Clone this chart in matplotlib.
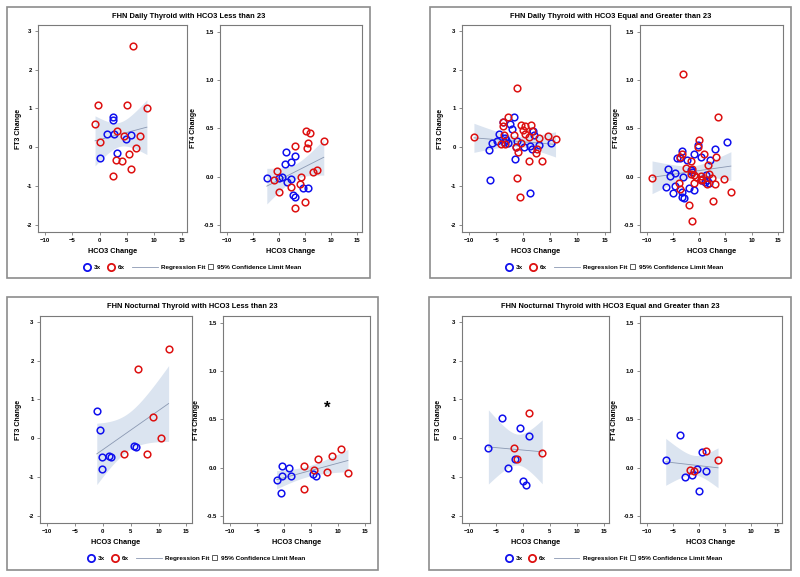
import math
import numpy as np
import matplotlib
matplotlib.use("Agg")
import matplotlib.pyplot as plt
from matplotlib.lines import Line2D
from matplotlib.patches import Patch, Rectangle

plt.rcParams['font.family'] = ['Liberation Sans', 'DejaVu Sans']

# ---------------- data ----------------
titles = ["FHN Daily Thyroid with HCO3 Less than 23",
          "FHN Daily Thyroid with HCO3 Equal and Greater than 23",
          "FHN Nocturnal Thyroid with HCO3 Less than 23",
          "FHN Nocturnal Thyroid with HCO3 Equal and Greater than 23"]
group_labels = ["3x", "6x"]
fit_label = "Regression Fit"
band_label = "95% Confidence Limit Mean"
x_label = "HCO3 Change"
y_labels = ["FT3 Change", "FT4 Change"]
x_ticks = [-10, -5, 0, 5, 10, 15]
ft3_ticks = [-2, -1, 0, 1, 2, 3]
ft4_ticks = [-0.5, 0.0, 0.5, 1.0, 1.5]

# Panel 1: Daily, HCO3 < 23
d_lt_ft3_3x_x = [2.4, 2.4, 1.4, 2.7, 5.7, 4.75, 3.2, 0.1]
d_lt_ft3_3x_y = [0.77, 0.71, 0.35, 0.35, 0.32, 0.21, -0.14, -0.27]
d_lt_ft3_6x_x = [6.1, -0.25, 5.05, 8.65, -0.85, 3.1, 4.4, 7.3, 0.1, 6.7, 5.4, 3.05, 4.0, 5.7, 2.4]
d_lt_ft3_6x_y = [2.6, 1.08, 1.10, 1.01, 0.61, 0.42, 0.29, 0.29, 0.13, -0.01, -0.16, -0.33, -0.35, -0.56, -0.75]
d_lt_ft4_3x_x = [1.4, 3.2, 2.35, 1.2, -2.3, 0.0, 0.7, 2.35, 1.65, 4.7, 5.65, 2.65, 3.05]
d_lt_ft4_3x_y = [0.26, 0.21, 0.15, 0.13, -0.01, -0.01, -0.005, -0.02, -0.055, -0.115, -0.12, -0.19, -0.205]
d_lt_ft4_6x_x = [5.3, 6.05, 8.65, 5.65, 3.05, 5.35, 7.3, 6.6, -0.25, 4.35, -1.0, 4.0, 2.3, 0.05, 5.0, 3.05]
d_lt_ft4_6x_y = [0.475, 0.455, 0.37, 0.35, 0.32, 0.30, 0.07, 0.045, 0.06, 0.0, -0.03, -0.08, -0.105, -0.155, -0.265, -0.325]

# Panel 2: Daily, HCO3 >= 23
d_ge_ft3_3x_x = [-1.8, -3.8, -2.45, -2.1, -4.4, 1.8, 2.0, -4.8, -5.7, -3.4, -3.1, -3.6, -2.9, -1.1,
                 -1.4, 0.2, 1.2, 2.9, 5.2, 1.6, -6.4, -1.6, -6.2, 1.2]
d_ge_ft3_3x_y = [0.78, 0.65, 0.61, 0.46, 0.35, 0.41, 0.31, 0.16, 0.11, 0.24, 0.20, 0.15, 0.11, 0.17,
                 0.01, 0.01, 0.03, 0.06, 0.12, -0.05, -0.08, -0.31, -0.83, -1.18]
d_ge_ft3_6x_x = [-1.1, -2.8, -3.8, -3.8, -9.1, -0.4, 0.25, 1.5, -0.1, 1.7, 0.3, -1.7, -3.5, 2.9,
                 4.6, 5.95, 1.1, -3.4, -4.05, -0.5, -1.4, -1.0, 2.6, 2.3, 1.0, 3.5, -1.1, -0.6]
d_ge_ft3_6x_y = [1.54, 0.77, 0.65, 0.54, 0.26, 0.58, 0.54, 0.57, 0.44, 0.41, 0.35, 0.31, 0.31, 0.24,
                 0.29, 0.21, 0.27, 0.09, 0.08, 0.11, 0.01, -0.12, -0.05, -0.14, -0.34, -0.36, -0.79, -1.29]
d_ge_ft4_3x_x = [5.35, -0.3, 3.0, -3.25, -4.3, -1.0, -3.6, 0.3, 2.0, -2.3, -1.5, -1.4, -5.9, -5.6,
                 -4.65, -3.05, 1.3, 1.5, 0.4, 1.2, 1.9, -6.3, -4.65, -1.9, -0.9, -5.0, -3.25, -3.25, -2.9]
d_ge_ft4_3x_y = [0.36, 0.33, 0.29, 0.27, 0.19, 0.24, 0.19, 0.20, 0.17, 0.17, 0.07, 0.05, 0.08, 0.01,
                 0.04, 0.0, 0.02, -0.03, -0.03, -0.05, -0.06, -0.11, -0.10, -0.12, -0.14, -0.17, -0.16, -0.215, -0.22]
d_ge_ft4_6x_x = [-3.0, 3.6, 0.05, -0.25, 1.0, 3.3, -3.3, -3.6, -1.65, 1.7, -2.6, -9.0, -1.3, -1.65,
                 -1.0, -0.6, 0.25, 0.6, 1.85, 2.35, 4.7, 0.25, -3.9, -3.6, -0.9, 1.5, 3.1, 6.05, -2.0, 2.7, -1.35]
d_ge_ft4_6x_y = [1.065, 0.62, 0.38, 0.31, 0.24, 0.20, 0.23, 0.20, 0.16, 0.12, 0.09, -0.01, 0.08, 0.03,
                 0.02, 0.0, 0.01, -0.02, 0.03, -0.01, -0.02, -0.03, -0.07, -0.13, -0.07, -0.08, -0.08, -0.16, -0.29, -0.25, -0.455]

# Panel 3: Nocturnal, HCO3 < 23
n_lt_ft3_3x_x = [-1.1, -0.5, -0.2, 1.05, 1.45, -0.1, 5.6, 6.0]
n_lt_ft3_3x_y = [0.71, 0.22, -0.49, -0.46, -0.48, -0.79, -0.20, -0.23]
n_lt_ft3_6x_x = [11.8, 6.3, 8.95, 10.5, 3.7, 7.9]
n_lt_ft3_6x_y = [2.29, 1.79, 0.56, 0.0, -0.41, -0.40]
n_lt_ft4_3x_x = [-0.3, 1.0, -0.3, 1.3, -1.35, 5.5, 6.0, -0.6]
n_lt_ft4_3x_y = [0.017, 0.0, -0.09, -0.09, -0.128, -0.06, -0.09, -0.262]
n_lt_ft4_6x_x = [10.6, 8.9, 6.3, 3.7, 5.65, 8.0, 11.9, 3.7]
n_lt_ft4_6x_y = [0.197, 0.12, 0.086, 0.02, -0.02, -0.045, -0.052, -0.217]
asterisk_x = 8.1
asterisk_y = 0.62

# Panel 4: Nocturnal, HCO3 >= 23
n_ge_ft3_3x_x = [-3.8, -0.5, 1.2, -6.4, -1.5, -2.8, -0.05, 0.6]
n_ge_ft3_3x_y = [0.52, 0.27, 0.07, -0.26, -0.52, -0.77, -1.11, -1.2]
n_ge_ft3_6x_x = [1.2, -1.7, 3.6, -1.1]
n_ge_ft3_6x_y = [0.66, -0.24, -0.38, -0.52]
n_ge_ft4_3x_x = [-3.65, 0.7, -6.35, -0.3, 1.35, -1.3, -2.7, 0.0]
n_ge_ft4_3x_y = [0.34, 0.16, 0.08, -0.017, -0.034, -0.072, -0.093, -0.238]
n_ge_ft4_6x_x = [1.4, 3.7, -1.6, -1.0]
n_ge_ft4_6x_y = [0.17, 0.08, -0.024, -0.03]

# ---------------- layout / style ----------------
W, H = 800, 577
C3, C6 = "#1010ee", "#dd1111"
BAND = "#dbe4f0"
FITC = "#8a98b2"
SPINE = "#7a7a7a"
LEG_FS = 4.6

fig = plt.figure(figsize=(8, 5.77), dpi=100)
fig.patch.set_facecolor("white")

panels = [
    dict(box=(7, 7, 370, 278), axl=(38, 25, 187, 232), axr=(220, 25, 362, 232),
         ty=17, ly=267, ylx=(18, 193),
         data=((d_lt_ft3_3x_x, d_lt_ft3_3x_y, d_lt_ft3_6x_x, d_lt_ft3_6x_y),
               (d_lt_ft4_3x_x, d_lt_ft4_3x_y, d_lt_ft4_6x_x, d_lt_ft4_6x_y))),
    dict(box=(430, 7, 791, 278), axl=(462, 25, 610, 232), axr=(640, 25, 783, 232),
         ty=17, ly=267, ylx=(440, 616),
         data=((d_ge_ft3_3x_x, d_ge_ft3_3x_y, d_ge_ft3_6x_x, d_ge_ft3_6x_y),
               (d_ge_ft4_3x_x, d_ge_ft4_3x_y, d_ge_ft4_6x_x, d_ge_ft4_6x_y))),
    dict(box=(7, 297, 378, 570), axl=(40, 316, 192, 523), axr=(223, 316, 370, 523),
         ty=307, ly=558, ylx=(18, 197),
         data=((n_lt_ft3_3x_x, n_lt_ft3_3x_y, n_lt_ft3_6x_x, n_lt_ft3_6x_y),
               (n_lt_ft4_3x_x, n_lt_ft4_3x_y, n_lt_ft4_6x_x, n_lt_ft4_6x_y))),
    dict(box=(429, 297, 791, 570), axl=(462, 316, 609, 523), axr=(640, 316, 782, 523),
         ty=307, ly=558, ylx=(439, 615),
         data=((n_ge_ft3_3x_x, n_ge_ft3_3x_y, n_ge_ft3_6x_x, n_ge_ft3_6x_y),
               (n_ge_ft4_3x_x, n_ge_ft4_3x_y, n_ge_ft4_6x_x, n_ge_ft4_6x_y))),
]


def t975(df):
    z = 1.959964
    g1 = (z**3 + z) / 4
    g2 = (5 * z**5 + 16 * z**3 + 3 * z) / 96
    g3 = (3 * z**7 + 19 * z**5 + 17 * z**3 - 15 * z) / 384
    g4 = (79 * z**9 + 776 * z**7 + 1482 * z**5 - 1920 * z**3 - 945 * z) / 92160
    return z + g1 / df + g2 / df**2 + g3 / df**3 + g4 / df**4


def fit_band(ax, x, y):
    x = np.asarray(x, float)
    y = np.asarray(y, float)
    n = len(x)
    b, a = np.polyfit(x, y, 1)
    resid = y - (a + b * x)
    s = math.sqrt(np.sum(resid**2) / (n - 2))
    xm = x.mean()
    sxx = np.sum((x - xm) ** 2)
    xs = np.linspace(x.min(), x.max(), 100)
    yh = a + b * xs
    se = s * np.sqrt(1.0 / n + (xs - xm) ** 2 / sxx)
    t = t975(n - 2)
    ax.fill_between(xs, yh - t * se, yh + t * se, color=BAND, lw=0, zorder=1)
    ax.plot(xs, yh, color=FITC, lw=0.6, zorder=2)


def add_ax(rect):
    x0, y0, x1, y1 = rect
    return fig.add_axes([x0 / W, 1 - y1 / H, (x1 - x0) / W, (y1 - y0) / H])


def add_legend(handles, labels, x_px, y_px, **kw):
    leg = fig.legend(handles, labels, loc="center left", ncol=len(handles), frameon=False,
                     bbox_to_anchor=(x_px / W, 1 - y_px / H),
                     prop=dict(size=LEG_FS, weight="bold"), borderaxespad=0, borderpad=0, **kw)
    return leg


for pi, p in enumerate(panels):
    bx0, by0, bx1, by1 = p["box"]
    cx = (bx0 + bx1) / 2
    fig.add_artist(Rectangle((bx0 / W, 1 - by1 / H), (bx1 - bx0) / W, (by1 - by0) / H,
                             transform=fig.transFigure, fill=False, ec="#8c8c8c", lw=1.2))
    fig.text(cx / W, 1 - p["ty"] / H, titles[pi],
             ha="center", va="center", fontsize=5.4, fontweight="bold")
    for k, rect in enumerate((p["axl"], p["axr"])):
        ax = add_ax(rect)
        x3, y3, x6, y6 = p["data"][k]
        fit_band(ax, list(x3) + list(x6), list(y3) + list(y6))
        ax.plot(x3, y3, ls="none", marker="o", ms=4.8, mfc="none", mec=C3, mew=1.1, zorder=3)
        ax.plot(x6, y6, ls="none", marker="o", ms=4.8, mfc="none", mec=C6, mew=1.1, zorder=3)
        ax.set_xlim(-11.3, 16.0)
        ax.set_xticks(x_ticks)
        if k == 0:
            ax.set_ylim(-2.18, 3.15)
            ax.set_yticks(ft3_ticks)
            ax.set_yticklabels([f"{v:d}" for v in ft3_ticks])
        else:
            ax.set_ylim(-0.572, 1.57)
            ax.set_yticks(ft4_ticks)
            ax.set_yticklabels([f"{v:.1f}" for v in ft4_ticks])
        for s in ax.spines.values():
            s.set_color(SPINE)
            s.set_linewidth(0.8)
        ax.tick_params(labelsize=4.3, length=2.5, width=0.6, color=SPINE, pad=2)
        for lab in ax.get_xticklabels() + ax.get_yticklabels():
            lab.set_fontweight("bold")
        ax.set_xlabel(x_label, fontsize=5.3, fontweight="bold")
        ax.set_ylabel(y_labels[k], fontsize=5.0, fontweight="bold")
        ax0, ay0, ax1, ay1 = rect
        ax.xaxis.set_label_coords(0.5, -(248 - 232) / (ay1 - ay0))
        ax.yaxis.set_label_coords(-(ax0 - (p["ylx"][k] + 3.5)) / (ax1 - ax0), 0.5)
        if pi == 2 and k == 1:
            ax.text(asterisk_x, asterisk_y, "*", ha="center", va="center",
                    fontsize=12, fontweight="bold", color="black")

    # legend: three pieces so the fit line can be longer than the markers
    h_groups = [Line2D([], [], ls="none", marker="o", ms=5.2, mfc="none", mec=C3, mew=1.3),
                Line2D([], [], ls="none", marker="o", ms=5.2, mfc="none", mec=C6, mew=1.3)]
    add_legend(h_groups, group_labels, cx - 104.5, p["ly"],
               handlelength=1.0, handletextpad=0.6, columnspacing=0.95)
    add_legend([Line2D([], [], color=FITC, lw=0.6)], [fit_label], cx - 56.5, p["ly"],
               handlelength=4.0, handletextpad=0.6)
    add_legend([Patch(facecolor="white", edgecolor="#444444", lw=0.6)], [band_label],
               cx + 19.5, p["ly"], handlelength=0.8, handleheight=0.8, handletextpad=0.6)

fig.savefig("out.png", dpi=100)
